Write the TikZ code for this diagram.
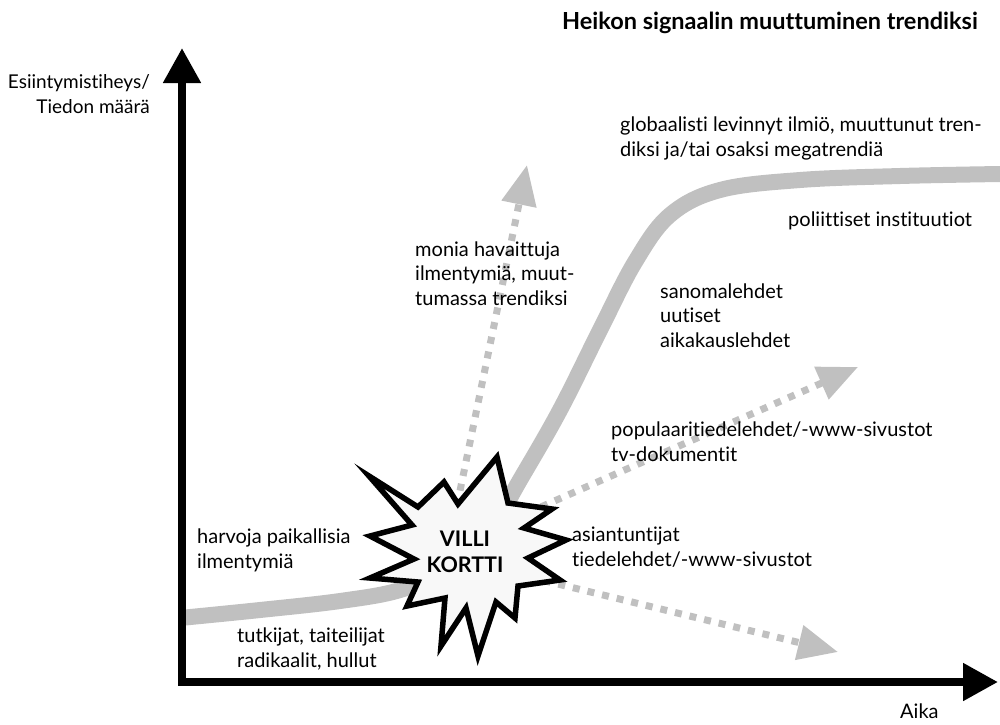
\documentclass[tikz,border=0pt]{standalone}
\usepackage{fontspec}
\setmainfont[Ligatures=NoCommon]{Lato}
\usetikzlibrary{arrows.meta}
\definecolor{curvegray}{RGB}{192,192,192}
\definecolor{starfill}{RGB}{248,248,248}
\begin{document}
\begin{tikzpicture}[x=1pt,y=-1pt,
  lbl/.style={anchor=base west, inner sep=0pt, align=left, font=\fontsize{20}{24.5}\selectfont},
  axisline/.style={line width=8pt, {Triangle[length=35pt,width=36pt]}-{Triangle[length=35pt,width=36pt]}},
  trend/.style={curvegray, line width=16pt},
  signal/.style={curvegray, line width=7pt, dash pattern=on 7pt off 8pt, -{Triangle[length=40pt,width=34pt]}},
  wild/.style={draw=black, fill=starfill, line width=5.5pt, miter limit=12}]
\useasboundingbox (0,0) rectangle (1000,724);

% trend curve
\draw[trend] plot[smooth, tension=0.6] coordinates {(180,618) (260,610) (340,601) (400,590) (450,568) (490,530) (520,480) (560,410) (600,330) (635,262) (670,215) (720,190) (800,180) (900,176) (1000,174)};

% axes
\coordinate (ytip) at (182,48);
\coordinate (origin) at (182,682);
\coordinate (xtip) at (998,682);
\draw[axisline] (ytip) -- (origin) -- (xtip);

% signal arrows
\coordinate (s1) at (454,520);
\coordinate (t1) at (527,165);
\coordinate (s2) at (500,525);
\coordinate (t2) at (858,367);
\coordinate (s3) at (500,570);
\coordinate (t3) at (838,652);
\draw[signal] (s1) -- (t1);
\draw[signal] (s2) -- (t2);
\draw[signal] (s3) -- (t3);

% wild card star
\draw[wild] (369,476) -- (418,507) -- (444,482) -- (458,504) -- (497,457) -- (508,503)
  -- (552,509) -- (524,528) -- (566,540) -- (528,558) -- (560,580) -- (518,586)
  -- (515,618) -- (496,602) -- (478,656) -- (466,608) -- (441,646) -- (445,598)
  -- (407,606) -- (418,582) -- (370,578) -- (414,559) -- (370,536) -- (412,525) -- cycle;
\node[align=center, inner sep=0pt, font=\fontsize{21.5}{25.5}\selectfont\bfseries] (wildcard) at (465,552) {VILLI\\KORTTI};

% title and axis labels
\node[anchor=base east, inner sep=0pt, font=\fontsize{23.5}{28}\selectfont\bfseries] (title) at (978,29) {Heikon signaalin muuttuminen trendiksi};
\node[anchor=base east, inner sep=0pt, align=right, font=\fontsize{19}{25}\selectfont] (ylabel) at (150,113) {Esiintymistiheys/\\Tiedon määrä};
\node[lbl] (xlabel) at (900,718) {Aika};

% labels (base anchor = baseline of last line)
\node[lbl] (global) at (620,156) {globaalisti levinnyt ilmiö, muuttunut tren-\\diksi ja/tai osaksi megatrendiä};
\node[lbl] (politics) at (788,226) {poliittiset instituutiot};
\node[lbl] (many) at (415,305) {monia havaittuja\\ilmentymiä, muut-\\tumassa trendiksi};
\node[lbl] (news) at (660,347) {sanomalehdet\\uutiset\\aikakauslehdet};
\node[lbl] (popular) at (611,461) {populaaritiedelehdet/-www-sivustot\\tv-dokumentit};
\node[lbl] (experts) at (572,566) {asiantuntijat\\tiedelehdet/-www-sivustot};
\node[lbl] (rare) at (197,568) {harvoja paikallisia\\ilmentymiä};
\node[lbl] (fringe) at (237,667) {tutkijat, taiteilijat\\radikaalit, hullut};
\end{tikzpicture}
\end{document}
